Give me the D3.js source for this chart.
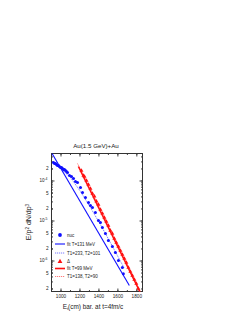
<!DOCTYPE html>
<html>
<head>
<meta charset="utf-8">
<script src="https://cdn.jsdelivr.net/npm/d3@7"></script>
<style>
  body { margin: 0; background: #fff; }
  svg { display: block; }
  text { font-family: "Liberation Sans", Arial, sans-serif; fill: #222; }
</style>
</head>
<body>
<svg id="chart" width="249" height="323"></svg>
<script>
// nucleon points (E in MeV, yield)
const nucE = [926,937,947,958,968,979,989,1000,1011,1021,1032,1042,1053,1063,1074,1095,1116,1137,1158,1179,
  1211,1232,1263,1295,1316,1337,1368,1400,1421,1442,1474,1505,1547,1579,1611,1653,1663];
const nucY = [2.82e-4,2.66e-4,2.66e-4,2.51e-4,2.37e-4,2.37e-4,2.24e-4,2.11e-4,2.11e-4,2.0e-4,1.88e-4,1.88e-4,
  1.78e-4,1.68e-4,1.58e-4,1.33e-4,1.26e-4,1.12e-4,9.4e-5,8.9e-5,6.7e-5,5.0e-5,3.76e-5,2.82e-5,2.37e-5,2.11e-5,
  1.58e-5,1.0e-5,8.9e-6,6.7e-6,4.7e-6,3.16e-6,2.24e-6,1.58e-6,1.0e-6,6.7e-7,4.7e-7];

// nucleon fits
const fitNucE = [905, 1726];
const fitNucY = [5.0e-4, 2.37e-7];
const fit2NucE = [926, 1000, 1105, 1211, 1316, 1421, 1526, 1611, 1674];
const fit2NucY = [2.66e-4, 2.0e-4, 1.19e-4, 5.3e-5, 2.11e-5, 7.9e-6, 2.82e-6, 1.19e-6, 6.3e-7];

// delta points
const deltaE = [1221,1242,1253,1274,1295,1316,1337,1358,1379,1400,1421,1442,1463,1484,1505,1526,1547,1568,
  1589,1611,1632,1653,1674,1695,1716,1737,1758,1779,1800,1821];
const deltaY = [1.78e-4,1.33e-4,1.26e-4,1.0e-4,7.9e-5,6.3e-5,4.7e-5,4.0e-5,3.0e-5,2.51e-5,1.88e-5,1.5e-5,
  1.19e-5,9.4e-6,7.5e-6,5.6e-6,4.7e-6,3.55e-6,2.82e-6,2.24e-6,1.78e-6,1.41e-6,1.12e-6,8.9e-7,6.7e-7,5.3e-7,
  4.2e-7,3.35e-7,2.66e-7,2.0e-7];

// delta fits
const fitDeltaE = [1189, 1842];
const fitDeltaY = [2.24e-4, 1.58e-7];
const fit2DeltaE = [1179, 1316, 1526, 1684, 1842];
const fit2DeltaY = [2.66e-4, 6.3e-5, 5.96e-6, 1.0e-6, 1.58e-7];

// ticks
const xTickValues = [1000, 1200, 1400, 1600, 1800];
const xMinorValues = [1000, 1100, 1200, 1300, 1400, 1500, 1600, 1700, 1800];
const yDecades = [1e-6, 1e-5, 1e-4];
const yDecadeExp = ["-6", "-5", "-4"];
const yLabelValues = [2e-7, 5e-7, 2e-6, 5e-6, 2e-5, 5e-5, 2e-4];
const yLabelText = ["2", "5", "2", "5", "2", "5", "2"];

const legendLabels = ["nuc", "fit  T=131  MeV", "T1=233,  T2=101", "\u0394", "fit  T=99  MeV", "T1=138,  T2=90"];

const blue = "#1010ff", lightBlue = "#7a7aff", red = "#ff1010", pink = "#ff7a7a";

const svg = d3.select("#chart");
const pLeft = 51.5, pRight = 142.5, pTop = 153.5, pBottom = 291.5;

const x = d3.scaleLinear().domain([905, 1865]).range([pLeft, pRight]);
const y = d3.scaleLog().domain([1.68e-7, 4.73e-4]).range([pBottom, pTop]);

svg.append("defs").append("clipPath").attr("id", "clip")
  .append("rect").attr("x", pLeft).attr("y", pTop).attr("width", pRight - pLeft).attr("height", pBottom - pTop);

// minor log ticks
let yMinor = [];
for (let e = -7; e <= -4; e++) {
  for (let m = 1; m <= 9; m++) {
    let v = m * Math.pow(10, e);
    if (v >= 1.68e-7 && v <= 4.73e-4) yMinor.push(v);
  }
}

function axisStyle(g) {
  g.select(".domain").remove();
  g.selectAll("line").attr("stroke", "#444");
  g.selectAll("text").attr("font-size", 4.7).attr("fill", "#222");
}

// bottom
svg.append("g").attr("transform", `translate(0,${pBottom})`)
  .call(d3.axisBottom(x).tickValues(xMinorValues).tickSize(-1.5).tickFormat(""))
  .call(axisStyle);
svg.append("g").attr("transform", `translate(0,${pBottom})`)
  .call(d3.axisBottom(x).tickValues(xTickValues).tickSize(-3).tickPadding(3).tickFormat(d3.format("d")))
  .call(axisStyle);
// top
svg.append("g").attr("transform", `translate(0,${pTop})`)
  .call(d3.axisTop(x).tickValues(xMinorValues).tickSize(-1.5).tickFormat(""))
  .call(axisStyle);
svg.append("g").attr("transform", `translate(0,${pTop})`)
  .call(d3.axisTop(x).tickValues(xTickValues).tickSize(-3).tickFormat(""))
  .call(axisStyle);
// left
svg.append("g").attr("transform", `translate(${pLeft},0)`)
  .call(d3.axisLeft(y).tickValues(yMinor).tickSize(-1.5).tickFormat(""))
  .call(axisStyle);
svg.append("g").attr("transform", `translate(${pLeft},0)`)
  .call(d3.axisLeft(y).tickValues(yLabelValues).tickSize(-1.5).tickPadding(3).tickFormat((d, i) => yLabelText[i]))
  .call(axisStyle);
svg.append("g").attr("transform", `translate(${pLeft},0)`)
  .call(d3.axisLeft(y).tickValues(yDecades).tickSize(-3).tickFormat(""))
  .call(axisStyle);
// right
svg.append("g").attr("transform", `translate(${pRight},0)`)
  .call(d3.axisRight(y).tickValues(yMinor).tickSize(-1.5).tickFormat(""))
  .call(axisStyle);
svg.append("g").attr("transform", `translate(${pRight},0)`)
  .call(d3.axisRight(y).tickValues(yDecades).tickSize(-3).tickFormat(""))
  .call(axisStyle);

// decade labels 10^n
yDecades.forEach((d, i) => {
  let t = svg.append("text").attr("x", pLeft - 4).attr("y", y(d) + 1.5)
    .attr("text-anchor", "end").attr("font-size", 4.5);
  t.append("tspan").text("10");
  t.append("tspan").attr("dy", -1.8).attr("font-size", 3.4).text(yDecadeExp[i]);
});

// frame
svg.append("rect").attr("x", pLeft).attr("y", pTop).attr("width", pRight - pLeft).attr("height", pBottom - pTop)
  .attr("fill", "none").attr("stroke", "#333").attr("stroke-width", 1);

const plot = svg.append("g").attr("clip-path", "url(#clip)");
const line = d3.line().x(d => x(d[0])).y(d => y(d[1]));

// fits
plot.append("path").attr("d", line(d3.zip(fit2NucE, fit2NucY)))
  .attr("fill", "none").attr("stroke", lightBlue).attr("stroke-width", 1).attr("stroke-dasharray", "1.2,0.8");
plot.append("path").attr("d", line(d3.zip(fitNucE, fitNucY)))
  .attr("fill", "none").attr("stroke", blue).attr("stroke-width", 1.1);
plot.append("path").attr("d", line(d3.zip(fit2DeltaE, fit2DeltaY)))
  .attr("fill", "none").attr("stroke", pink).attr("stroke-width", 1).attr("stroke-dasharray", "1.2,0.8");
plot.append("path").attr("d", line(d3.zip(fitDeltaE, fitDeltaY)))
  .attr("fill", "none").attr("stroke", red).attr("stroke-width", 1.6);

// points
plot.selectAll(".nuc").data(d3.zip(nucE, nucY)).join("circle")
  .attr("class", "nuc")
  .attr("cx", d => x(d[0])).attr("cy", d => y(d[1])).attr("r", 1.5).attr("fill", blue);

const tri = d3.symbol().type(d3.symbolTriangle).size(7);
plot.selectAll(".delta").data(d3.zip(deltaE, deltaY)).join("path")
  .attr("class", "delta")
  .attr("transform", d => `translate(${x(d[0])},${y(d[1])})`)
  .attr("d", tri).attr("fill", red);

// legend
const legY = [235, 244, 253, 261.5, 268.5, 276.5];
const lg = svg.append("g");
lg.append("circle").attr("cx", 60).attr("cy", legY[0]).attr("r", 1.9).attr("fill", blue);
lg.append("line").attr("x1", 55).attr("x2", 65).attr("y1", legY[1]).attr("y2", legY[1])
  .attr("stroke", blue).attr("stroke-width", 1.1);
lg.append("line").attr("x1", 55).attr("x2", 65).attr("y1", legY[2]).attr("y2", legY[2])
  .attr("stroke", lightBlue).attr("stroke-width", 1).attr("stroke-dasharray", "1.2,0.8");
lg.append("path").attr("transform", `translate(60,${legY[3]})`)
  .attr("d", d3.symbol().type(d3.symbolTriangle).size(10)).attr("fill", red);
lg.append("line").attr("x1", 55).attr("x2", 65).attr("y1", legY[4]).attr("y2", legY[4])
  .attr("stroke", red).attr("stroke-width", 1.6);
lg.append("line").attr("x1", 55).attr("x2", 65).attr("y1", legY[5]).attr("y2", legY[5])
  .attr("stroke", pink).attr("stroke-width", 1).attr("stroke-dasharray", "1.2,0.8");
legendLabels.forEach((s, i) => {
  lg.append("text").attr("x", 67).attr("y", legY[i] + 1.6).attr("font-size", 4.5).text(s);
});

// title
svg.append("text").attr("x", 96).attr("y", 148).attr("text-anchor", "middle")
  .attr("font-size", 6.2).text("Au(1.5  GeV)+Au");

// x title
let xt = svg.append("text").attr("x", 93).attr("y", 309).attr("text-anchor", "middle").attr("font-size", 6.4);
xt.append("tspan").text("E");
xt.append("tspan").attr("dy", 1.2).attr("font-size", 4.2).text("t");
xt.append("tspan").attr("dy", -1.2).text("(cm)  bar.  at  t=4fm/c");

// y title
let yt = svg.append("text").attr("transform", "translate(31,222) rotate(-90)")
  .attr("text-anchor", "middle").attr("font-size", 7);
yt.append("tspan").text("E/p");
yt.append("tspan").attr("dy", -2.3).attr("font-size", 4.6).text("2");
yt.append("tspan").attr("dy", 2.3).text(" dN/dp");
yt.append("tspan").attr("dy", -2.3).attr("font-size", 4.6).text("3");
</script>
</body>
</html>
